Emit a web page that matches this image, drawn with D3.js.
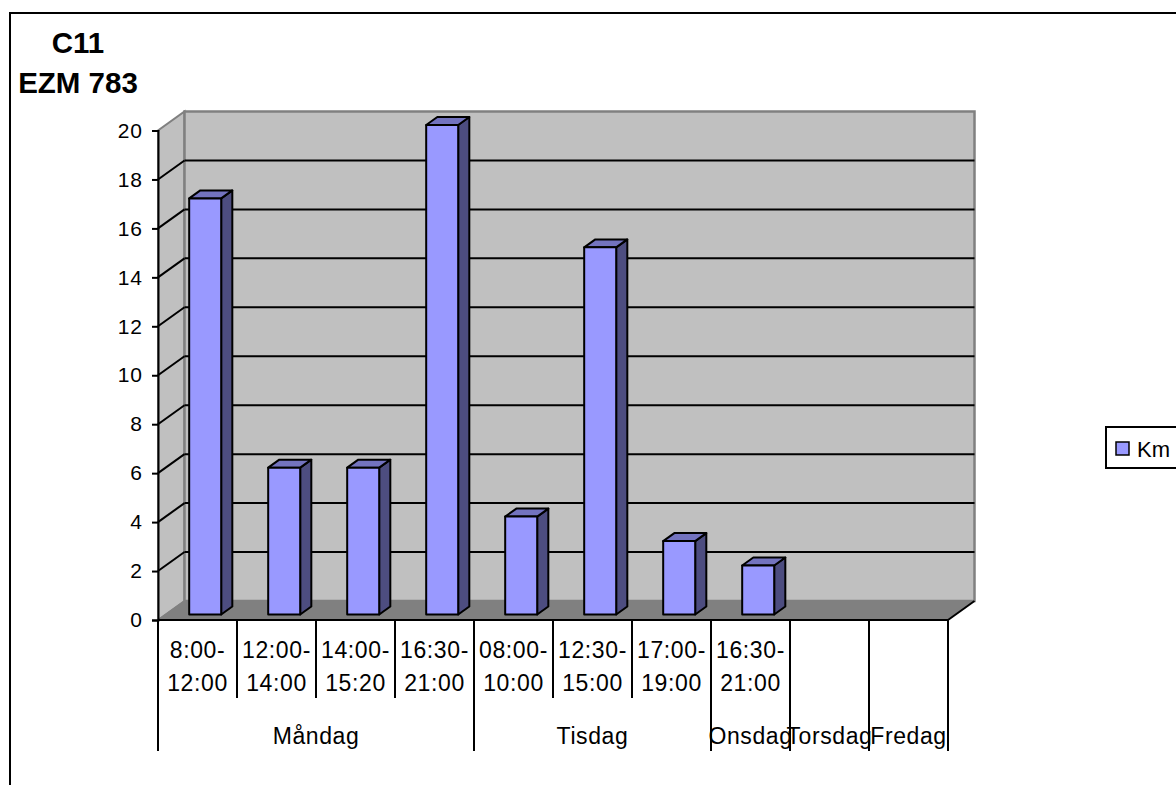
<!DOCTYPE html>
<html>
<head>
<meta charset="utf-8">
<script src="https://cdn.jsdelivr.net/npm/d3@7"></script>
<style>
  html, body { margin: 0; padding: 0; background: #fff; }
  svg { display: block; font-family: "Liberation Sans", Arial, sans-serif; }
</style>
</head>
<body>
<script>

// DATA
// --------------------------------------------------------------------------

var slotDay  = ['Måndag', 'Måndag', 'Måndag', 'Måndag', 'Tisdag', 'Tisdag',
                'Tisdag', 'Onsdag', 'Torsdag', 'Fredag'];
var slotFrom = ['8:00-', '12:00-', '14:00-', '16:30-', '08:00-', '12:30-',
                '17:00-', '16:30-', '', ''];
var slotTo   = ['12:00', '14:00', '15:20', '21:00', '10:00', '15:00',
                '19:00', '21:00', '', ''];
var km       = [17, 6, 6, 20, 4, 15, 3, 2, null, null];
var days     = ['Måndag', 'Tisdag', 'Onsdag', 'Torsdag', 'Fredag'];
var yTicks   = [0, 2, 4, 6, 8, 10, 12, 14, 16, 18, 20];
var title    = ['C11', 'EZM 783'];
var seriesName = 'Km';


(function() {

  // LAYOUT
  // ------------------------------------------------------------------------

  var W = 1176, H = 785;
  var xLeft = 158, xRight = 948, yBase = 620, yTop = 130.5;
  var DX = 26.5, DY = -19;          // depth offset of the back wall
  var d0 = 0.29, d1 = 0.71;         // bar depth range (0 = front, 1 = back)

  var svg = d3.select('body').append('svg')
    .attr('width', W).attr('height', H);

  var x = d3.scaleBand()
    .domain(d3.range(km.length))
    .range([xLeft, xRight])
    .padding(0);

  var y = d3.scaleLinear().domain([0, 20]).range([yBase, yTop]);

  // Project a point at depth d.
  function px(xv, d) { return xv + d * DX; }
  function py(yv, d) { return yv + d * DY; }
  function pts(a) { return a.map(function(p) { return p.join(','); }).join(' '); }

  // Chart border.
  svg.append('rect')
    .attr('x', 10).attr('y', 13).attr('width', 1200).attr('height', 800)
    .attr('fill', 'none').attr('stroke', '#000').attr('stroke-width', 2);

  // Title.
  svg.append('g').selectAll('text').data(title).enter().append('text')
    .attr('x', 78)
    .attr('y', function(d, i) { return 52.5 + i * 40.5; })
    .attr('text-anchor', 'middle')
    .attr('font-size', 29.5).attr('font-weight', 'bold')
    .text(function(d) { return d; });


  // WALLS
  // ------------------------------------------------------------------------

  // Side wall.
  svg.append('polygon')
    .attr('points', pts([[xLeft, y(0)], [px(xLeft, 1), py(y(0), 1)],
                         [px(xLeft, 1), py(y(20), 1)], [xLeft, y(20)]]))
    .attr('fill', '#c0c0c0').attr('stroke', '#808080').attr('stroke-width', 2);

  // Back wall.
  svg.append('polygon')
    .attr('points', pts([[px(xLeft, 1), py(y(0), 1)],
                         [px(xRight, 1), py(y(0), 1)],
                         [px(xRight, 1), py(y(20), 1)],
                         [px(xLeft, 1), py(y(20), 1)]]))
    .attr('fill', '#c0c0c0').attr('stroke', '#808080').attr('stroke-width', 2.5);

  // Floor.
  svg.append('polygon')
    .attr('points', pts([[xLeft, y(0)], [xRight, y(0)],
                         [px(xRight, 1), py(y(0), 1)],
                         [px(xLeft, 1), py(y(0), 1)]]))
    .attr('fill', '#808080');

  // Gridlines on side and back wall.
  var grid = svg.append('g').attr('stroke', '#000').attr('stroke-width', 2)
    .attr('fill', 'none');

  grid.selectAll('.back').data(yTicks.slice(1, -1)).enter().append('line')
    .attr('x1', px(xLeft, 1)).attr('x2', px(xRight, 1))
    .attr('y1', function(d) { return py(y(d), 1); })
    .attr('y2', function(d) { return py(y(d), 1); });

  grid.selectAll('.side').data(yTicks.slice(1, -1)).enter().append('line')
    .attr('x1', xLeft).attr('x2', px(xLeft, 1))
    .attr('y1', function(d) { return y(d); })
    .attr('y2', function(d) { return py(y(d), 1); });

  // Floor edges.
  svg.append('line')
    .attr('x1', xRight).attr('y1', y(0))
    .attr('x2', px(xRight, 1)).attr('y2', py(y(0), 1))
    .attr('stroke', '#000').attr('stroke-width', 2);
  svg.append('line')
    .attr('x1', xLeft).attr('y1', y(0))
    .attr('x2', px(xLeft, 1)).attr('y2', py(y(0), 1))
    .attr('stroke', '#808080').attr('stroke-width', 1.5);


  // BARS
  // ------------------------------------------------------------------------

  var bw = 32;
  var bars = svg.append('g').attr('stroke', '#000').attr('stroke-width', 2)
    .attr('stroke-linejoin', 'round');

  km.forEach(function(v, i) {
    if (v == null) return;
    var xl = x(i) + (x.bandwidth() - bw) / 2, xr = xl + bw;
    var yb = y(0), yt = y(v);

    // Side face.
    bars.append('polygon')
      .attr('points', pts([[px(xr, d0), py(yb, d0)], [px(xr, d1), py(yb, d1)],
                           [px(xr, d1), py(yt, d1)], [px(xr, d0), py(yt, d0)]]))
      .attr('fill', '#4d4d80');

    // Top face.
    bars.append('polygon')
      .attr('points', pts([[px(xl, d0), py(yt, d0)], [px(xr, d0), py(yt, d0)],
                           [px(xr, d1), py(yt, d1)], [px(xl, d1), py(yt, d1)]]))
      .attr('fill', '#7373bf');

    // Front face.
    bars.append('polygon')
      .attr('points', pts([[px(xl, d0), py(yb, d0)], [px(xr, d0), py(yb, d0)],
                           [px(xr, d0), py(yt, d0)], [px(xl, d0), py(yt, d0)]]))
      .attr('fill', '#9999ff');
  });


  // AXES
  // ------------------------------------------------------------------------

  var yAxis = d3.axisLeft(y).tickValues(yTicks).tickSize(6).tickPadding(9);
  var ya = svg.append('g')
    .attr('transform', 'translate(' + xLeft + ',0)')
    .call(yAxis);
  ya.select('.domain').attr('stroke', '#000').attr('stroke-width', 2);
  ya.selectAll('.tick line').attr('stroke', '#000').attr('stroke-width', 2);
  ya.selectAll('.tick text')
    .attr('font-family', '"Liberation Sans", Arial, sans-serif')
    .attr('font-size', 21).attr('letter-spacing', 1).attr('fill', '#000');

  // Category axis line.
  svg.append('line')
    .attr('x1', xLeft).attr('x2', xRight).attr('y1', yBase).attr('y2', yBase)
    .attr('stroke', '#000').attr('stroke-width', 2);

  var lab = svg.append('g').attr('font-size', 23).attr('letter-spacing', 0.6)
    .attr('text-anchor', 'middle');
  var sep = svg.append('g').attr('stroke', '#000').attr('stroke-width', 2);

  // Day groups.
  var groups = days.map(function(d) {
    var idx = slotDay.map(function(s, i) { return s == d ? i : -1; })
      .filter(function(i) { return i >= 0; });
    return { name: d, x0: x(idx[0]),
             x1: x(idx[idx.length - 1]) + x.bandwidth() };
  });

  // Slot separators and labels.
  d3.range(km.length + 1).forEach(function(i) {
    var xv = i < km.length ? x(i) : xRight;
    var full = i == 0 || i == km.length || slotDay[i] != slotDay[i - 1];
    sep.append('line')
      .attr('x1', xv).attr('x2', xv)
      .attr('y1', yBase).attr('y2', full ? 751 : 698);
  });

  slotFrom.forEach(function(s, i) {
    var cx = x(i) + x.bandwidth() / 2;
    lab.append('text').attr('x', cx).attr('y', 658).text(s);
    lab.append('text').attr('x', cx).attr('y', 691).text(slotTo[i]);
  });

  groups.forEach(function(g) {
    lab.append('text').attr('x', (g.x0 + g.x1) / 2).attr('y', 744).text(g.name);
  });


  // LEGEND
  // ------------------------------------------------------------------------

  var legend = svg.append('g');
  legend.append('rect')
    .attr('x', 1106).attr('y', 427).attr('width', 100).attr('height', 41)
    .attr('fill', '#fff').attr('stroke', '#000').attr('stroke-width', 2);
  legend.append('rect')
    .attr('x', 1116).attr('y', 442).attr('width', 13).attr('height', 13)
    .attr('fill', '#9999ff').attr('stroke', '#000').attr('stroke-width', 1.5);
  legend.append('text')
    .attr('x', 1137).attr('y', 457).attr('font-size', 22)
    .text(seriesName);

})();

</script>
</body>
</html>
